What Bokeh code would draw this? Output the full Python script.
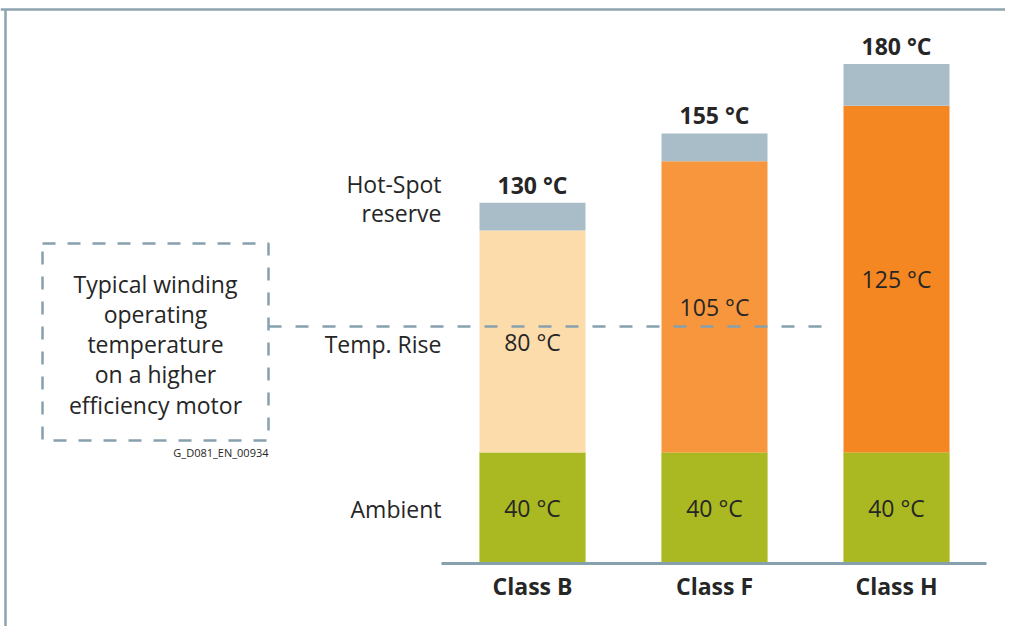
from bokeh.plotting import figure
from bokeh.models import Range1d, ColumnDataSource
from bokeh.core.properties import value
from bokeh.embed import file_html
from bokeh.resources import INLINE

# ---- data ----
classes = ["Class B", "Class F", "Class H"]
ambient = [40, 40, 40]
temp_rise = [80, 105, 125]
hotspot_reserve = [10, 10, 15]
totals = [a + r + h for a, r, h in zip(ambient, temp_rise, hotspot_reserve)]
rise_colors = ["#fddcac", "#f7963c", "#f58722"]
operating_temp = 85.4
box_lines = ["Typical winding", "operating", "temperature", "on a higher", "efficiency motor"]
row_labels = ["Hot-Spot", "reserve", "Temp. Rise", "Ambient"]

# ---- layout ----
W, H = 1005, 626
K = 2.775            # pixels per degree
BASE = 563           # baseline, px from figure top
FONT = value("Open Sans")
TXT = "#262626"
BLUEGREY = "#86a0ae"
centers = [532, 714, 896]
bar_w = 106
FS = "23px"


def fy(ref_y):
    """page y (px) -> data y"""
    return (BASE - ref_y) / K


def fx(ref_x):
    return ref_x


p = figure(width=W, height=H, x_range=Range1d(0, W),
           y_range=Range1d(-(H - BASE) / K, BASE / K),
           output_backend="svg", toolbar_location=None, min_border=0)
p.axis.visible = False
p.grid.visible = False
p.outline_line_color = None
p.background_fill_color = "white"
p.border_fill_color = "white"

src = ColumnDataSource(dict(
    x=centers, cls=classes,
    amb=ambient, rise_top=[a + r for a, r in zip(ambient, temp_rise)],
    tot=totals, rise_col=rise_colors,
    amb_mid=[a / 2 for a in ambient],
    rise_mid=[a + r / 2 for a, r in zip(ambient, temp_rise)],
    amb_lbl=[f"{a} °C" for a in ambient],
    rise_lbl=[f"{r} °C" for r in temp_rise],
    tot_lbl=[f"{t} °C" for t in totals],
    tot_y=[t + 18 / K for t in totals],
    cls_y=[-22 / K] * 3,
))

p.vbar(x="x", bottom=0, top="amb", width=bar_w, source=src,
       fill_color="#aab822", line_color="#c8d26a", line_width=0.6)
p.vbar(x="x", bottom="amb", top="rise_top", width=bar_w, source=src,
       fill_color="rise_col", line_color=None)
p.vbar(x="x", bottom="rise_top", top="tot", width=bar_w, source=src,
       fill_color="#a8bdc7", line_color=None)

# baseline
p.segment(x0=[fx(441)], y0=[0], x1=[fx(986)], y1=[0], line_color=BLUEGREY, line_width=3)

# dashed operating temperature line
p.segment(x0=[fx(268)], y0=[operating_temp], x1=[fx(822)], y1=[operating_temp],
          line_color=BLUEGREY, line_width=2.5, line_dash="13 14")

# dashed box
p.quad(left=[fx(42)], right=[fx(268)], top=[fy(243)], bottom=[fy(440)],
       fill_color=None, line_color=BLUEGREY, line_width=2.5, line_dash="13 12")

# frame border (top and left)
p.segment(x0=[0, fx(5)], y0=[fy(9), fy(9)], x1=[W, fx(5)], y1=[fy(9), -(H - BASE) / K],
          line_color="#8ea3af", line_width=2.5)

# value labels
p.text(x="x", y="amb_mid", text="amb_lbl", source=src, text_align="center", text_baseline="middle",
       text_font=FONT, text_font_size=FS, text_color=TXT)
p.text(x="x", y="rise_mid", text="rise_lbl", source=src, text_align="center", text_baseline="middle",
       text_font=FONT, text_font_size=FS, text_color=TXT)
p.text(x="x", y="tot_y", text="tot_lbl", source=src, text_align="center", text_baseline="middle",
       text_font=FONT, text_font_size=FS, text_font_style="bold", text_color=TXT)
p.text(x="x", y="cls_y", text="cls", source=src, text_align="center", text_baseline="middle",
       text_font=FONT, text_font_size=FS, text_font_style="bold", text_color=TXT)

# row labels on the left
p.text(x=[fx(441)] * 4, y=[fy(183), fy(212), fy(343), fy(508)], text=row_labels,
       text_align="right", text_baseline="middle", text_font=FONT, text_font_size=FS, text_color=TXT)

# box text
p.text(x=[fx(155)] * 5, y=[fy(v) for v in (283, 313, 343, 373, 404)], text=box_lines,
       text_align="center", text_baseline="middle", text_font=FONT, text_font_size=FS, text_color=TXT)

p.text(x=[fx(268)], y=[fy(452)], text=["G_D081_EN_00934"], text_align="right", text_baseline="middle",
       text_font=FONT, text_font_size="11px", text_color=TXT)

open("out.html", "w").write(file_html(p, INLINE))
